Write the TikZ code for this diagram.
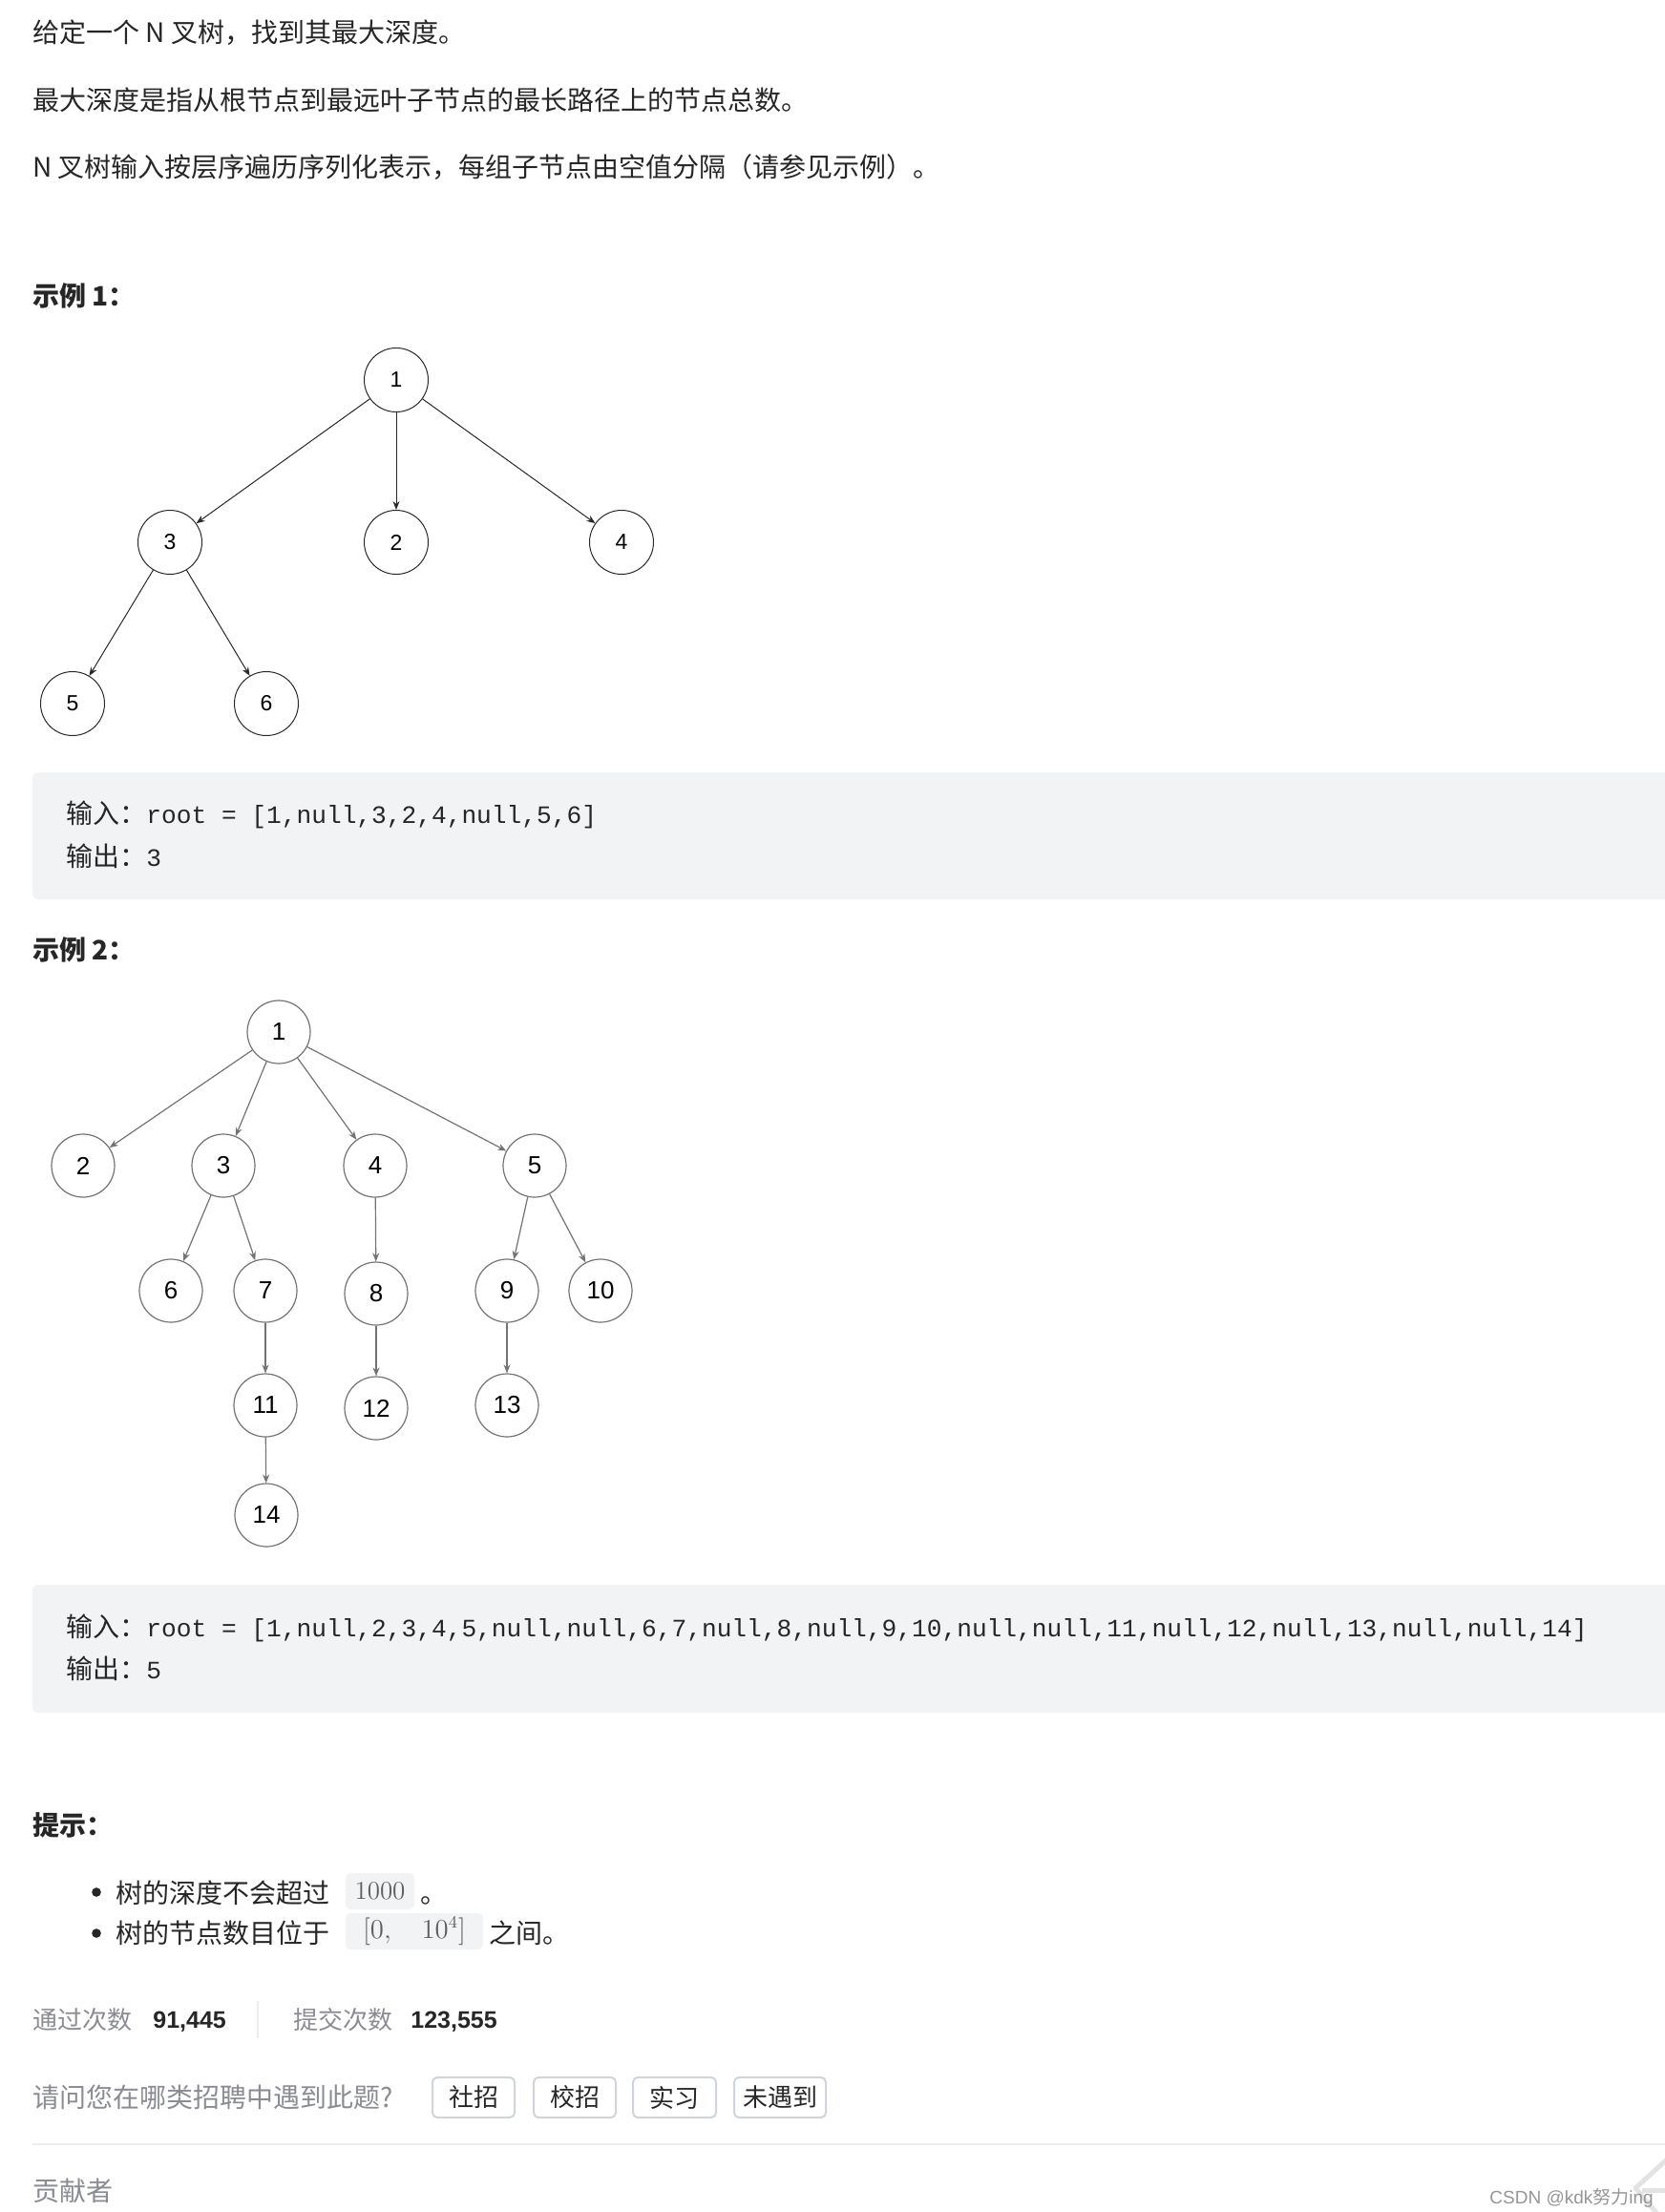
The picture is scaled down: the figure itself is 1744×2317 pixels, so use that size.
\documentclass[tikz,border=0pt]{standalone}
\usepackage{fontspec}
\usetikzlibrary{arrows.meta}
\newfontfamily\cjk{Noto Sans CJK SC}
\newfontfamily\arial{Liberation Sans}
\newfontfamily\mono{Liberation Mono}
\definecolor{txt}{RGB}{38,38,38}
\definecolor{lbl}{RGB}{138,140,146}
\definecolor{codebg}{RGB}{242,243,245}
\definecolor{mathgray}{RGB}{95,95,95}
\definecolor{btnborder}{RGB}{208,212,219}
\definecolor{divider}{RGB}{236,236,238}
\definecolor{wm}{RGB}{150,150,150}
\definecolor{treeA}{RGB}{40,40,40}
\definecolor{treeB}{RGB}{115,115,115}
\begin{document}
\begin{tikzpicture}[x=0.5pt,y=-0.5pt,
  para/.style={anchor=base west, inner sep=0, font=\cjk\fontsize{14}{16}\selectfont, text=txt},
  head/.style={anchor=base west, inner sep=0, font=\cjk\bfseries\fontsize{14}{16}\selectfont, text=txt},
  codeline/.style={anchor=base west, inner sep=0, text=txt},
  codebox/.style={fill=codebg, rounded corners=3pt},
  ta/.style={circle, draw=treeA, line width=0.5pt, minimum size=33.5pt, inner sep=0, text=black, font=\arial\fontsize{11.5}{13}\selectfont},
  tb/.style={circle, draw=treeB, line width=0.6pt, minimum size=33pt, inner sep=0, text=black, font=\arial\fontsize{13}{15}\selectfont},
  ea/.style={draw=treeA, line width=0.5pt, -{Stealth[length=4.5pt,width=3.5pt]}},
  eb/.style={draw=treeB, line width=0.6pt, -{Stealth[length=4.5pt,width=3.5pt]}},
  katexbox/.style={fill=codebg, rounded corners=2.5pt, inner sep=0, text=mathgray, font=\rmfamily\fontsize{13.5}{15}\selectfont},
  gray label/.style={anchor=base west, inner sep=0, font=\cjk\fontsize{13}{15}\selectfont, text=lbl},
  stat value/.style={anchor=base west, inner sep=0, font=\arial\bfseries\fontsize{12.5}{14}\selectfont, text=txt},
  btn/.style={draw=btnborder, line width=1pt, rounded corners=2.5pt, inner sep=0, text=txt, font=\cjk\fontsize{13}{15}\selectfont},
]
\useasboundingbox (0,0) rectangle (1744,2317);
\clip (0,0) rectangle (1744,2317);
\fill[white] (0,0) rectangle (1744,2317);

% description
\node[para] (p1) at (34,45) {给定一个 N 叉树，找到其最大深度。};
\node[para] (p2) at (34,116) {最大深度是指从根节点到最远叶子节点的最长路径上的节点总数。};
\node[para] (p3) at (34,186) {N 叉树输入按层序遍历序列化表示，每组子节点由空值分隔（请参见示例）。};

% example 1
\node[head] (h1) at (34,320) {示例 1：};
\node[ta] (a1) at (415,398) {1};
\node[ta] (a3) at (178,568) {3};
\node[ta] (a2) at (415,568) {2};
\node[ta] (a4) at (651,568) {4};
\node[ta] (a5) at (76,737) {5};
\node[ta] (a6) at (279,737) {6};
\draw[ea] (a1) -- (a3);
\draw[ea] (a1) -- (a2);
\draw[ea] (a1) -- (a4);
\draw[ea] (a3) -- (a5);
\draw[ea] (a3) -- (a6);

\path[codebox] (34,809) rectangle (1760,942);
\node[codeline] (c1a) at (69,862) {{\cjk\fontsize{14}{16}\selectfont 输入：}{\mono\fontsize{13.1}{15}\selectfont root = [1,null,3,2,4,null,5,6]}};
\node[codeline] (c1b) at (69,907) {{\cjk\fontsize{14}{16}\selectfont 输出：}{\mono\fontsize{13.1}{15}\selectfont 3}};

% example 2
\node[head] (h2) at (34,1005) {示例 2：};
\node[tb] (b1) at (292,1081) {1};
\node[tb] (b2) at (87,1221) {2};
\node[tb] (b3) at (234,1221) {3};
\node[tb] (b4) at (393,1221) {4};
\node[tb] (b5) at (560,1221) {5};
\node[tb] (b6) at (179,1352) {6};
\node[tb] (b7) at (278,1352) {7};
\node[tb] (b8) at (394,1355) {8};
\node[tb] (b9) at (531,1352) {9};
\node[tb] (b10) at (629,1352) {10};
\node[tb] (b11) at (278,1472) {11};
\node[tb] (b12) at (394,1475) {12};
\node[tb] (b13) at (531,1472) {13};
\node[tb] (b14) at (279,1587) {14};
\draw[eb] (b1) -- (b2);
\draw[eb] (b1) -- (b3);
\draw[eb] (b1) -- (b4);
\draw[eb] (b1) -- (b5);
\draw[eb] (b3) -- (b6);
\draw[eb] (b3) -- (b7);
\draw[eb] (b4) -- (b8);
\draw[eb] (b5) -- (b9);
\draw[eb] (b5) -- (b10);
\draw[eb] (b7) -- (b11);
\draw[eb] (b8) -- (b12);
\draw[eb] (b9) -- (b13);
\draw[eb] (b11) -- (b14);

\path[codebox] (34,1660) rectangle (1760,1794);
\node[codeline] (c2a) at (69,1714) {{\cjk\fontsize{14}{16}\selectfont 输入：}{\mono\fontsize{13.1}{15}\selectfont root = [1,null,2,3,4,5,null,null,6,7,null,8,null,9,10,null,null,11,null,12,null,13,null,null,14]}};
\node[codeline] (c2b) at (69,1758) {{\cjk\fontsize{14}{16}\selectfont 输出：}{\mono\fontsize{13.1}{15}\selectfont 5}};

% hints
\node[head] (h3) at (34,1922) {提示：};
\fill[txt] (101,1982) circle (2.4pt);
\node[para] (t1) at (121,1993) {树的深度不会超过};
\node[katexbox, minimum width=36pt, minimum height=19pt] (k1) at (398,1981) {1000};
\node[para] (t1e) at (440,1993) {。};
\fill[txt] (101,2025) circle (2.4pt);
\node[para] (t2) at (121,2035) {树的节点数目位于};
\node[katexbox, minimum width=72pt, minimum height=19pt] (k2) at (434,2023) {$[0,\quad 10^4]$};
\node[para] (t2e) at (512,2035) {之间。};

% stats
\node[gray label] (s1) at (34,2125) {通过次数};
\node[stat value] (v1) at (160,2124) {91,445};
\draw[divider, line width=1pt] (270,2096) -- (270,2135);
\node[gray label] (s2) at (307,2125) {提交次数};
\node[stat value] (v2) at (430,2124) {123,555};

% question
\node[para, text=lbl] (q) at (34,2207) {请问您在哪类招聘中遇到此题?};
\node[btn, minimum width=43pt, minimum height=21pt] (bt1) at (496,2197) {社招};
\node[btn, minimum width=43pt, minimum height=21pt] (bt2) at (602,2197) {校招};
\node[btn, minimum width=43.5pt, minimum height=21pt] (bt3) at (706.5,2197) {实习};
\node[btn, minimum width=48pt, minimum height=21pt] (bt4) at (817,2197) {未遇到};

\draw[divider, line width=1pt] (34,2246) -- (1744,2246);
\node[para, text=lbl] (contrib) at (34,2305) {贡献者};

% watermark
\draw[gray!22, line width=2.5pt, line join=round] (1746,2262) -- (1713,2292) -- (1736,2319);
\draw[gray!22, line width=2.5pt] (1720,2294) -- (1746,2294);
\node[anchor=base west, inner sep=0, text=wm, font=\arial\fontsize{9.5}{11}\selectfont] (wmk) at (1560,2308) {CSDN @kdk{\cjk 努力}ing};
\end{tikzpicture}
\end{document}
